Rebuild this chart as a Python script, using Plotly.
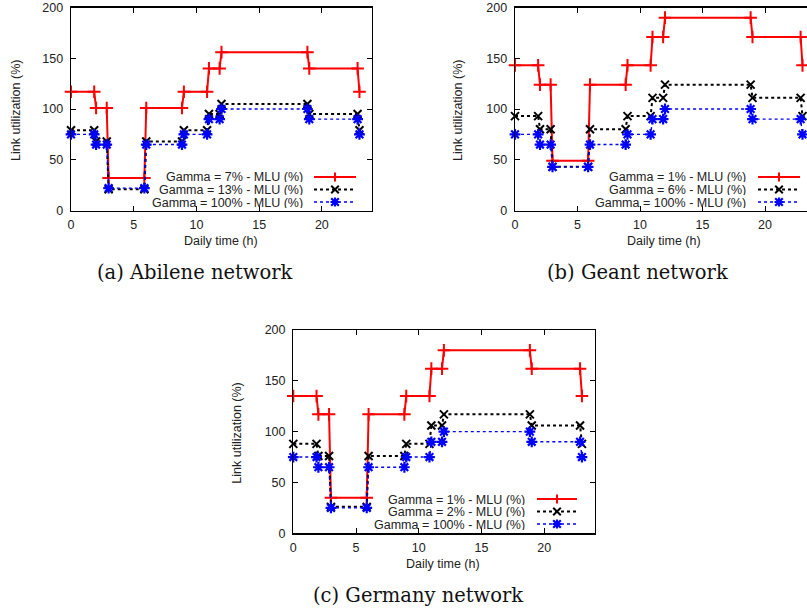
import plotly.graph_objects as go

W, H = 807, 610

# ---------------- data ----------------
hours = [0, 1.85, 2, 2.85, 3, 5.85, 6, 8.85, 9, 10.85, 11, 11.85, 12, 18.85, 19, 22.85, 23]

abilene_g7 = [117, 117, 101, 101, 32, 32, 101, 101, 117, 117, 140, 140, 156, 156, 140, 140, 117]
abilene_g13 = [79, 79, 68, 68, 21, 21, 68, 68, 79, 79, 95, 95, 105, 105, 95, 95, 79]
abilene_g100 = [75, 75, 65, 65, 22, 22, 65, 65, 75, 75, 90, 90, 100, 100, 90, 90, 75]

geant_g1 = [143, 143, 124, 124, 49, 49, 124, 124, 143, 143, 171, 171, 190, 190, 171, 171, 143]
geant_g6 = [93, 93, 80, 80, 43, 43, 80, 80, 93, 93, 111, 111, 124, 124, 111, 111, 93]
geant_g100 = [75, 75, 65, 65, 43, 43, 65, 65, 75, 75, 90, 90, 100, 100, 90, 90, 75]

germany_g1 = [135, 135, 117, 117, 35, 35, 117, 117, 135, 135, 162, 162, 180, 180, 162, 162, 135]
germany_g2 = [88, 88, 76, 76, 26, 26, 76, 76, 88, 88, 106, 106, 117, 117, 106, 106, 88]
germany_g100 = [75, 75, 65, 65, 25, 25, 65, 65, 75, 75, 90, 90, 100, 100, 90, 90, 75]

abilene_names = ["Gamma = 7% - MLU (%)", "Gamma = 13% - MLU (%)", "Gamma = 100% - MLU (%)"]
geant_names = ["Gamma = 1% - MLU (%)", "Gamma = 6% - MLU (%)", "Gamma = 100% - MLU (%)"]
germany_names = ["Gamma = 1% - MLU (%)", "Gamma = 2% - MLU (%)", "Gamma = 100% - MLU (%)"]

captions = ["(a) Abilene network", "(b) Geant network", "(c) Germany network"]
x_title = "Daily time (h)"
y_title = "Link utilization (%)"
x_ticks = [0, 5, 10, 15, 20]
y_ticks = [0, 50, 100, 150, 200]

# ---------------- styling ----------------
SANS = "Liberation Sans, Arial, sans-serif"
SERIF = "DejaVu Serif, serif"
FS = 12.5
RED, BLACK, BLUE = "#ff0000", "#000000", "#0000ff"

styles = [
    dict(color=RED, dash="solid", width=2, symbol="cross-thin", msize=9, mw=2),
    dict(color=BLACK, dash="dot", width=2, symbol="x-thin", msize=8, mw=2),
    dict(color=BLUE, dash="dot", width=1.4, symbol="asterisk", msize=9, mw=2.2),
]

def px2fx(px):
    return min(1.0, max(0.0, px / W))

def py2fy(py):
    return min(1.0, max(0.0, (H - py) / H))

# panel geometry in page pixels
panels = [
    dict(l=71, r=372, t=7.5, b=210.5, xmax=24.0,
         data=[abilene_g7, abilene_g13, abilene_g100], names=abilene_names,
         leg_text_x=305, leg_l=314, leg_r=356, leg_y=[177, 189.5, 202],
         cap_x=195, cap_y=272, ytitle_x=16, xtitle_x=220.5, xtitle_y=241,
         mirror_right=True),
    dict(l=515, r=807, t=7.5, b=210.5, xmax=(807 - 515) / 12.5,
         data=[geant_g1, geant_g6, geant_g100], names=geant_names,
         leg_text_x=748, leg_l=758, leg_r=800, leg_y=[177, 189.5, 202],
         cap_x=637, cap_y=272, ytitle_x=458, xtitle_x=664, xtitle_y=241,
         mirror_right=False),
    dict(l=293.3, r=594.5, t=330, b=533.3, xmax=24.0,
         data=[germany_g1, germany_g2, germany_g100], names=germany_names,
         leg_text_x=527, leg_l=537, leg_r=577, leg_y=[499, 511.5, 524],
         cap_x=418, cap_y=595, ytitle_x=237, xtitle_x=442.5, xtitle_y=564,
         mirror_right=True),
]

fig = go.Figure()
annotations = []
shapes = []
layout = {}

for i, p in enumerate(panels):
    n = "" if i == 0 else str(i + 1)
    xa, ya = "x" + n, "y" + n
    for series, name, st in zip(p["data"], p["names"], styles):
        fig.add_trace(go.Scatter(
            x=hours, y=series, mode="lines+markers", name=name,
            xaxis=xa, yaxis=ya, showlegend=False, cliponaxis=False,
            line=dict(color=st["color"], dash=st["dash"], width=st["width"]),
            marker=dict(symbol=st["symbol"], size=st["msize"],
                        color=st["color"],
                        line=dict(color=st["color"], width=st["mw"])),
        ))
    layout["xaxis" + n] = dict(
        domain=[px2fx(p["l"]), px2fx(p["r"])],
        range=[0, p["xmax"]], anchor=ya, automargin=False,
        tickvals=x_ticks, ticks="inside", ticklen=5, tickwidth=1,
        tickcolor="black", showline=True, linecolor="black", linewidth=1.3,
        mirror="ticks", showgrid=False, zeroline=False,
        tickfont=dict(family=SANS, size=FS, color="#222"),
        ticklabelstandoff=2, ticklabeloverflow="allow",
    )
    layout["yaxis" + n] = dict(
        domain=[py2fy(p["b"]), py2fy(p["t"])],
        range=[0, 200], anchor=xa, automargin=False,
        tickvals=y_ticks, ticks="inside", ticklen=5, tickwidth=1,
        tickcolor="black", showline=True, linecolor="black", linewidth=1.3,
        mirror="ticks" if p["mirror_right"] else False,
        showgrid=False, zeroline=False,
        tickfont=dict(family=SANS, size=FS, color="#222"),
        ticklabelstandoff=4, ticklabeloverflow="allow",
    )
    # axis titles as annotations
    annotations.append(dict(
        text=y_title, x=px2fx(p["ytitle_x"]), y=py2fy((p["t"] + p["b"]) / 2 + 2),
        xref="paper", yref="paper", showarrow=False, textangle=-90,
        font=dict(family=SANS, size=FS, color="#222"),
        xanchor="center", yanchor="middle",
    ))
    annotations.append(dict(
        text=x_title, x=px2fx(p["xtitle_x"]), y=py2fy(p["xtitle_y"]),
        xref="paper", yref="paper", showarrow=False,
        font=dict(family=SANS, size=FS, color="#222"),
        xanchor="center", yanchor="middle",
    ))
    # caption
    annotations.append(dict(
        text=captions[i], x=px2fx(p["cap_x"]), y=py2fy(p["cap_y"]),
        xref="paper", yref="paper", showarrow=False,
        font=dict(family=SERIF, size=19.5, color="#111"),
        xanchor="center", yanchor="middle",
    ))
    # legend (gnuplot style: text left, sample right)
    for name, st, ly in zip(p["names"], styles, p["leg_y"]):
        annotations.append(dict(
            text=name, x=px2fx(p["leg_text_x"]), y=py2fy(ly),
            xref="paper", yref="paper", showarrow=False,
            font=dict(family=SANS, size=FS, color="#222"),
            xanchor="right", yanchor="middle", height=11,
        ))
        shapes.append(dict(
            type="line", xref="paper", yref="paper",
            x0=px2fx(p["leg_l"]), x1=px2fx(p["leg_r"]),
            y0=py2fy(ly), y1=py2fy(ly),
            line=dict(color=st["color"], dash=st["dash"], width=st["width"]),
        ))
        cx = (p["leg_l"] + p["leg_r"]) / 2
        s = 4.5
        d = 3.8
        if st["symbol"] == "cross-thin":
            path = f"M {-s},0 L {s},0 M 0,{-s} L 0,{s}"
        elif st["symbol"] == "x-thin":
            path = f"M {-d},{-d} L {d},{d} M {-d},{d} L {d},{-d}"
        else:
            path = (f"M {-s},0 L {s},0 M 0,{-s} L 0,{s} "
                    f"M {-d},{-d} L {d},{d} M {-d},{d} L {d},{-d}")
        shapes.append(dict(
            type="path", xref="paper", yref="paper",
            xsizemode="pixel", ysizemode="pixel",
            xanchor=px2fx(cx), yanchor=py2fy(ly), path=path,
            line=dict(color=st["color"], width=st["mw"]),
        ))

fig.update_layout(
    width=W, height=H,
    margin=dict(l=0, r=0, t=0, b=0, autoexpand=False),
    paper_bgcolor="white", plot_bgcolor="white",
    showlegend=False, hovermode=False,
    annotations=annotations, shapes=shapes,
    **layout,
)

fig.write_html(
    "out.html",
    config={"displayModeBar": False, "staticPlot": True},
    post_script="document.body.style.margin='0px';document.body.style.overflow='hidden';",
)
